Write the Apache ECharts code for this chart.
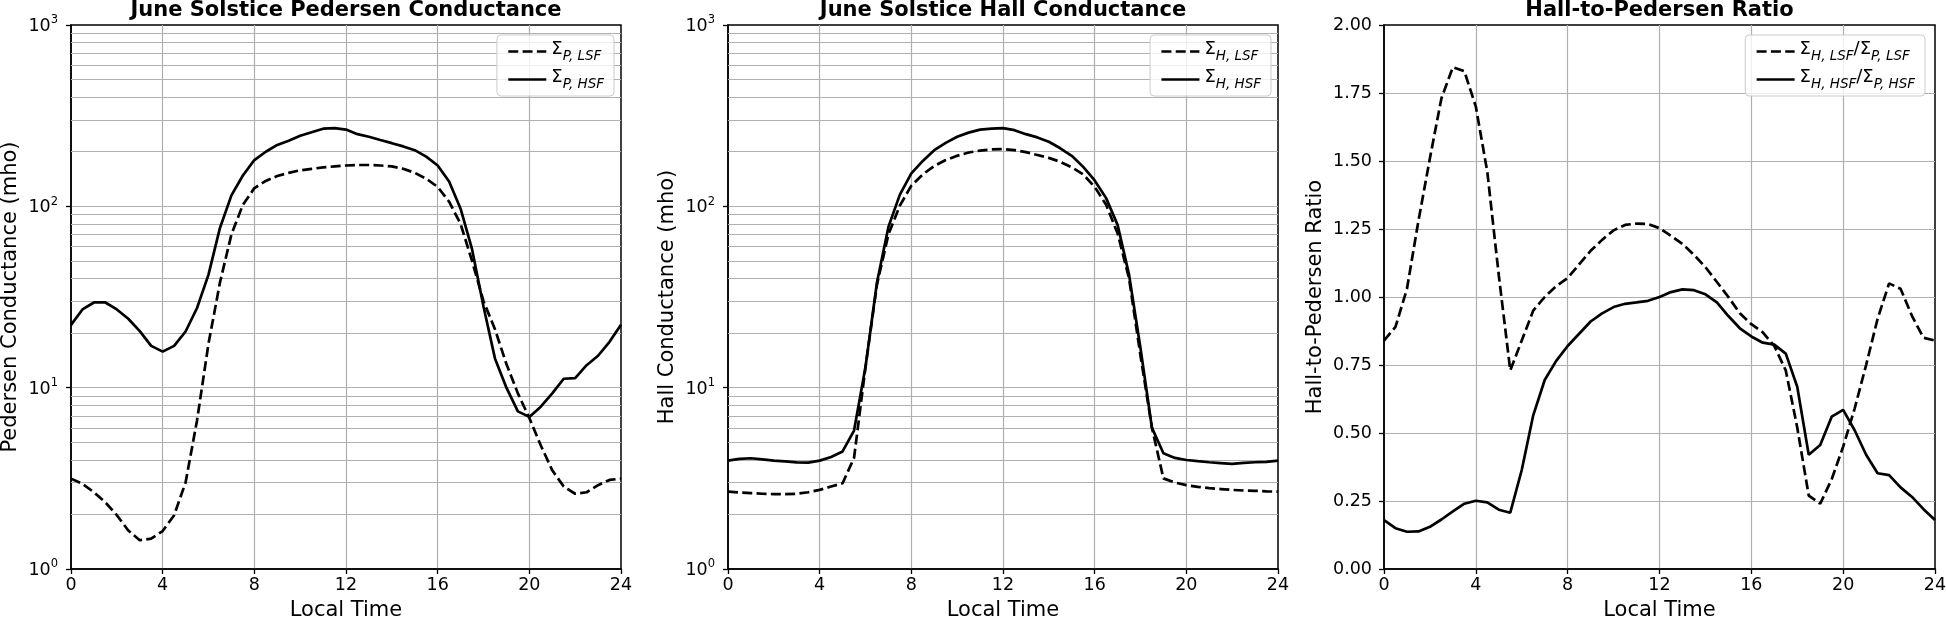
<!DOCTYPE html>
<html><head><meta charset="utf-8">
<script src="https://cdn.jsdelivr.net/npm/echarts@6/dist/echarts.min.js"></script>
<style>html,body{margin:0;padding:0;background:#fff}#c{width:1946px;height:620px}</style>
</head><body><div id="c"></div>
<script>
// ---- data ----
const hours = [0,0.5,1,1.5,2,2.5,3,3.5,4,4.5,5,5.5,6,6.5,7,7.5,8,8.5,9,9.5,10,10.5,11,11.5,12,
  12.5,13,13.5,14,14.5,15,15.5,16,16.5,17,17.5,18,18.5,19,19.5,20,20.5,21,21.5,22,22.5,23,23.5,24];
const pedLSF = [3.15,2.95,2.65,2.33,1.98,1.63,1.44,1.47,1.62,1.98,3.0,6.6,17.5,38,70,102,126,138,147,153,158,161,164,166,168,
  169,169,168,166,161,153,142,128,106,80,50,30,21,13.5,9.3,6.8,4.8,3.5,2.85,2.6,2.65,2.9,3.1,3.15];
const pedHSF = [22.2,27,29.5,29.5,27,24,20.5,17,15.8,17,20.4,27.5,42,76,115,148,180,200,218,230,245,256,268,270,265,
  250,242,232,223,214,204,188,168,137,97,58,28,14.5,10,7.4,6.9,7.85,9.3,11.2,11.3,13.3,15,17.9,22.2];
const hallLSF = [2.67,2.64,2.62,2.6,2.59,2.59,2.6,2.65,2.73,2.85,2.97,4.1,13,37,70,101,130,150,167,180,190,198,203,206,207,
  204,199,192,185,176,164,150,128,102,71,40,15,6.0,3.16,3.0,2.9,2.84,2.79,2.76,2.73,2.71,2.7,2.68,2.67];
const hallHSF = [3.96,4.05,4.08,4.02,3.96,3.92,3.87,3.86,3.96,4.15,4.45,5.8,13,38,77,116,152,178,204,224,242,255,265,268,270,
  263,250,240,227,209,190,165,139,111,79,42,16.5,6.0,4.35,4.1,3.99,3.93,3.88,3.84,3.8,3.85,3.88,3.9,3.96];
const ratioLSF = [0.84,0.89,1.03,1.28,1.51,1.73,1.845,1.83,1.70,1.46,1.08,0.73,0.84,0.95,1.0,1.04,1.07,1.12,1.17,1.21,1.245,1.265,1.27,1.268,1.253,
  1.225,1.195,1.155,1.11,1.055,1.0,0.94,0.90,0.87,0.82,0.73,0.52,0.27,0.24,0.33,0.45,0.59,0.75,0.92,1.05,1.03,0.93,0.85,0.84];
const ratioHSF = [0.18,0.15,0.137,0.138,0.155,0.182,0.212,0.24,0.251,0.245,0.218,0.207,0.364,0.565,0.695,0.765,0.82,0.865,0.91,0.94,0.963,0.975,0.98,0.986,1.0,
  1.018,1.028,1.025,1.01,0.98,0.93,0.885,0.855,0.832,0.825,0.792,0.67,0.42,0.456,0.56,0.585,0.51,0.42,0.352,0.345,0.30,0.265,0.22,0.18];
const logMinor = [2,3,4,5,6,7,8,9,20,30,40,50,60,70,80,90,200,300,400,500,600,700,800,900];
const titles = ['June Solstice Pedersen Conductance','June Solstice Hall Conductance','Hall-to-Pedersen Ratio'];
const yNames = ['Pedersen Conductance (mho)','Hall Conductance (mho)','Hall-to-Pedersen Ratio'];
const xName = 'Local Time';
const legendText = {
  P_LSF: '{b|Σ}{s|P, LSF}', P_HSF: '{b|Σ}{s|P, HSF}',
  H_LSF: '{b|Σ}{s|H, LSF}', H_HSF: '{b|Σ}{s|H, HSF}',
  R_LSF: '{b|Σ}{s|H, LSF}{b|/Σ}{s|P, LSF}', R_HSF: '{b|Σ}{s|H, HSF}{b|/Σ}{s|P, HSF}'
};

// ---- layout / style ----
const FONT = 'DejaVu Sans';
const grids = [
  {left:71, top:25, width:550, height:544},
  {left:728, top:25, width:550, height:544},
  {left:1384, top:25, width:551, height:544}
];
const GRID_C = '#b0b0b0';
const DASH = [10, 4.3];
const LW = 2.7;

function pairs(ys){ return hours.map((h,i)=>[h, ys[i]]); }

const xAxes = grids.map((g,i)=>({
  type:'value', gridIndex:i, min:0, max:24, interval:4,
  name:xName, nameLocation:'middle', nameGap:31,
  nameTextStyle:{fontFamily:FONT, fontSize:21, color:'#000'},
  axisLine:{show:true, onZero:false, lineStyle:{color:'#000', width:1.5}},
  axisTick:{show:true, inside:false, length:5, lineStyle:{color:'#000', width:1.3}},
  axisLabel:{fontFamily:FONT, fontSize:17.5, color:'#000', margin:7},
  splitLine:{show:true, showMinLine:false, showMaxLine:false, lineStyle:{color:GRID_C, width:1.2}}
}));

const logLabel = {
  fontFamily:FONT, color:'#000', margin:13,
  formatter: v => '{a|10}{p|' + Math.round(Math.log10(v)) + '}',
  rich:{
    a:{fontFamily:FONT, fontSize:17.5, color:'#000', lineHeight:21, verticalAlign:'bottom'},
    p:{fontFamily:FONT, fontSize:11.5, color:'#000', lineHeight:21, verticalAlign:'top'}
  }
};
const commonY = (i, gap) => ({
  gridIndex:i, name:yNames[i], nameLocation:'middle', nameGap:gap,
  nameTextStyle:{fontFamily:FONT, fontSize:21, color:'#000'},
  axisLine:{show:true, lineStyle:{color:'#000', width:1.5}},
  axisTick:{show:true, inside:false, length:5, lineStyle:{color:'#000', width:1.3}},
  splitLine:{show:true, showMinLine:false, showMaxLine:false, lineStyle:{color:GRID_C, width:1.2}}
});
const yAxes = [
  Object.assign(commonY(0, 50), {type:'log', logBase:10, min:1, max:1000, axisLabel:logLabel}),
  Object.assign(commonY(1, 50), {type:'log', logBase:10, min:1, max:1000, axisLabel:logLabel}),
  Object.assign(commonY(2, 58), {type:'value', min:0, max:2, interval:0.25,
    axisLabel:{fontFamily:FONT, fontSize:17.5, color:'#000', margin:12, formatter: v => v.toFixed(2)}})
];

function lineSeries(name, idx, ys, dashed){
  return {
    name, type:'line', xAxisIndex:idx, yAxisIndex:idx, data:pairs(ys),
    symbol:'none', showSymbol:false, smooth:false, z:3,
    lineStyle:{color:'#000', width:LW, type: dashed ? DASH : 'solid'},
    itemStyle:{color:'#000'},
    emphasis:{disabled:true}
  };
}
function minorGrid(idx){
  return {
    type:'line', xAxisIndex:idx, yAxisIndex:idx, data:[], silent:true, z:1,
    markLine:{
      silent:true, z:1, symbol:['none','none'], label:{show:false}, animation:false,
      emphasis:{disabled:true},
      lineStyle:{color:GRID_C, width:1.2, type:'solid'},
      data: logMinor.map(v => ({yAxis:v}))
    }
  };
}

const legendRich = {
  b:{fontFamily:FONT, fontSize:18, color:'#000', lineHeight:23, verticalAlign:'top'},
  s:{fontFamily:FONT, fontSize:13.5, fontStyle:'italic', color:'#000', lineHeight:23, verticalAlign:'bottom'}
};
function mkLegend(names, right){
  return {
    data:names.map(n => ({name:n, itemStyle:{opacity:0}})), orient:'vertical', right:right, top:35,
    itemWidth:38, itemHeight:14, itemGap:5, itemTextGap:14,
    padding:[5,10,5,10], backgroundColor:'rgba(255,255,255,0.8)',
    borderColor:'#cccccc', borderWidth:1, borderRadius:4,
    selectedMode:false,
    itemStyle:{opacity:0},
    lineStyle:{color:'#000', width:LW},
    formatter: n => legendText[n],
    textStyle:{fontFamily:FONT, fontSize:18, color:'#000', rich:legendRich}
  };
}

const option = {
  animation:false,
  backgroundColor:'#fff',
  title: grids.map((g,i)=>({
    text:titles[i], left:g.left + g.width/2, top:0, textAlign:'center', padding:0,
    textStyle:{fontFamily:FONT, fontSize:21, fontWeight:'bold', color:'#000'}
  })),
  grid: grids.map(g=>Object.assign({show:true, borderColor:'#000', borderWidth:1.5,
    containLabel:false, outerBoundsMode:'none'}, g)),
  xAxis: xAxes,
  yAxis: yAxes,
  legend: [
    mkLegend(['P_LSF','P_HSF'], 1946-614),
    mkLegend(['H_LSF','H_HSF'], 1946-1271),
    mkLegend(['R_LSF','R_HSF'], 1946-1925)
  ],
  series: [
    minorGrid(0), minorGrid(1),
    lineSeries('P_LSF', 0, pedLSF, true),
    lineSeries('P_HSF', 0, pedHSF, false),
    lineSeries('H_LSF', 1, hallLSF, true),
    lineSeries('H_HSF', 1, hallHSF, false),
    lineSeries('R_LSF', 2, ratioLSF, true),
    lineSeries('R_HSF', 2, ratioHSF, false)
  ]
};
const chart = echarts.init(document.getElementById('c'), null, {renderer:'canvas', width:1946, height:620});
chart.setOption(option);
</script>
</body></html>
